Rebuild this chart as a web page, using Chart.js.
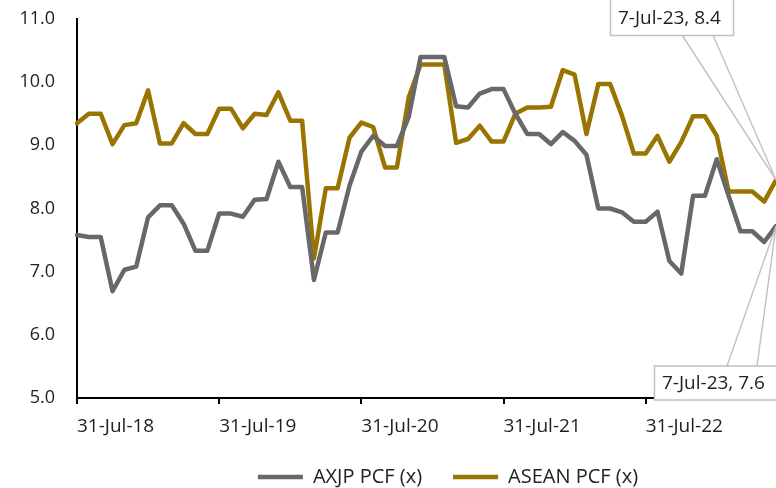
<!DOCTYPE html>
<html><head><meta charset="utf-8">
<script src="https://cdn.jsdelivr.net/npm/chart.js@4.4.1/dist/chart.umd.min.js"></script>
<style>html,body{margin:0;padding:0;background:#fff;}canvas{display:block;}</style>
</head><body>
<canvas id="c" width="776" height="488"></canvas>
<script>
const dates = [
 '31-Jul-18','31-Aug-18','30-Sep-18','31-Oct-18','30-Nov-18','31-Dec-18',
 '31-Jan-19','28-Feb-19','31-Mar-19','30-Apr-19','31-May-19','30-Jun-19','31-Jul-19','31-Aug-19','30-Sep-19','31-Oct-19','30-Nov-19','31-Dec-19',
 '31-Jan-20','29-Feb-20','31-Mar-20','30-Apr-20','31-May-20','30-Jun-20','31-Jul-20','31-Aug-20','30-Sep-20','31-Oct-20','30-Nov-20','31-Dec-20',
 '31-Jan-21','28-Feb-21','31-Mar-21','30-Apr-21','31-May-21','30-Jun-21','31-Jul-21','31-Aug-21','30-Sep-21','31-Oct-21','30-Nov-21','31-Dec-21',
 '31-Jan-22','28-Feb-22','31-Mar-22','30-Apr-22','31-May-22','30-Jun-22','31-Jul-22','31-Aug-22','30-Sep-22','31-Oct-22','30-Nov-22','31-Dec-22',
 '31-Jan-23','28-Feb-23','31-Mar-23','30-Apr-23','31-May-23','7-Jul-23'
];
const axjpPCF = [
 7.58, 7.55, 7.55, 6.69, 7.03, 7.08, 7.86, 8.05, 8.05, 7.76,
 7.33, 7.33, 7.92, 7.92, 7.87, 8.14, 8.15, 8.74, 8.34, 8.34,
 6.87, 7.62, 7.62, 8.36, 8.90, 9.15, 8.99, 8.99, 9.45, 10.40,
 10.40, 10.40, 9.62, 9.60, 9.82, 9.89, 9.89, 9.50, 9.18, 9.18,
 9.02, 9.21, 9.07, 8.85, 8.00, 8.00, 7.94, 7.79, 7.79, 7.95,
 7.17, 6.97, 8.20, 8.20, 8.78, 8.20, 7.64, 7.64, 7.47, 7.72
];
const aseanPCF = [
 9.35, 9.50, 9.50, 9.02, 9.32, 9.35, 9.87, 9.03, 9.03, 9.35,
 9.18, 9.18, 9.58, 9.58, 9.27, 9.50, 9.48, 9.84, 9.39, 9.39,
 7.21, 8.32, 8.32, 9.12, 9.36, 9.29, 8.65, 8.65, 9.76, 10.28,
 10.28, 10.28, 9.04, 9.10, 9.31, 9.06, 9.06, 9.50, 9.60, 9.60,
 9.61, 10.19, 10.12, 9.18, 9.97, 9.97, 9.47, 8.87, 8.87, 9.15,
 8.74, 9.05, 9.46, 9.46, 9.15, 8.27, 8.27, 8.27, 8.11, 8.45
];
const seriesNames = ['AXJP PCF (x)', 'ASEAN PCF (x)'];
const seriesColors = ['#686868', '#9a7400'];
const yMin = 5, yMax = 11, yStep = 1;
const calloutTexts = ['7-Jul-23, 8.4', '7-Jul-23, 7.6'];

const FONT = '"Open Sans", "Noto Sans", sans-serif';
const TEXT = '#222222';

const legendShift = {
  id: 'legendShift',
  afterLayout(chart) {
    const l = chart.legend;
    if (l) { l.left += 60; l.right += 60; }
  }
};

const callouts = {
  id: 'callouts',
  afterDraw(chart) {
    const ctx = chart.ctx;
    const last = dates.length - 1;
    const pA = chart.getDatasetMeta(0).data[last];
    const pG = chart.getDatasetMeta(1).data[last];
    ctx.save();
    ctx.strokeStyle = '#c0c0c0';
    ctx.lineWidth = 1.4;
    [[682, 35], [713, 35]].forEach(([x, y]) => {
      ctx.beginPath(); ctx.moveTo(x, y); ctx.lineTo(pG.x, pG.y); ctx.stroke();
    });
    [[727, 366], [757, 366]].forEach(([x, y]) => {
      ctx.beginPath(); ctx.moveTo(x, y); ctx.lineTo(pA.x, pA.y); ctx.stroke();
    });
    ctx.fillStyle = '#ffffff';
    ctx.lineWidth = 1.5;
    ctx.fillRect(610.5, -1, 123, 36.5);
    ctx.strokeRect(610.5, -1, 123, 36.5);
    ctx.fillRect(654.5, 366, 124, 34);
    ctx.strokeRect(654.5, 366, 124, 34);
    ctx.fillStyle = TEXT;
    ctx.font = '19px ' + FONT;
    ctx.textAlign = 'left';
    ctx.textBaseline = 'middle';
    ctx.fillText(calloutTexts[0], 618, 19);
    ctx.fillText(calloutTexts[1], 662, 384);
    ctx.restore();
  }
};

const noPad = s => { s.paddingTop = 0; s.paddingBottom = 0; s.paddingLeft = 0; s.paddingRight = 0; };

new Chart(document.getElementById('c'), {
  type: 'line',
  data: {
    labels: dates,
    datasets: [
      { label: seriesNames[0], data: axjpPCF, borderColor: seriesColors[0], backgroundColor: seriesColors[0],
        borderWidth: 4.5, pointRadius: 0, tension: 0, borderJoinStyle: 'round', borderCapStyle: 'round' },
      { label: seriesNames[1], data: aseanPCF, borderColor: seriesColors[1], backgroundColor: seriesColors[1],
        borderWidth: 4.5, pointRadius: 0, tension: 0, borderJoinStyle: 'round', borderCapStyle: 'round' }
    ]
  },
  options: {
    responsive: false,
    animation: false,
    devicePixelRatio: 1,
    events: [],
    layout: { padding: { top: 19, right: 0, bottom: 0, left: 0 } },
    plugins: {
      tooltip: { enabled: false },
      legend: {
        position: 'bottom',
        maxHeight: 52,
        labels: {
          usePointStyle: true,
          pointStyle: 'line',
          pointStyleWidth: 45,
          padding: 31,
          color: TEXT,
          font: { family: FONT, size: 20 }
        }
      }
    },
    scales: {
      x: {
        type: 'category',
        offset: false,
        afterFit: s => { s.height = 38; noPad(s); },
        grid: {
          drawOnChartArea: false,
          drawTicks: true,
          tickLength: 6,
          lineWidth: 2,
          color: ctx => (ctx.index % 12 === 0 ? '#000000' : 'rgba(0,0,0,0)')
        },
        border: { display: true, color: '#000000', width: 2 },
        ticks: {
          autoSkip: false,
          maxRotation: 0,
          minRotation: 0,
          align: 'start',
          padding: 11,
          color: TEXT,
          font: { family: FONT, size: 19 },
          callback: (v, i) => (i % 12 === 0 ? dates[i] : '')
        }
      },
      y: {
        min: yMin,
        max: yMax,
        afterFit: s => { s.width = 77; noPad(s); },
        grid: { display: false, drawTicks: false },
        border: { display: true, color: '#000000', width: 2 },
        ticks: {
          stepSize: yStep,
          padding: 22,
          color: TEXT,
          font: { family: FONT, size: 18 },
          callback: v => Number(v).toFixed(1)
        }
      }
    }
  },
  plugins: [legendShift, callouts]
});
</script>
</body></html>
